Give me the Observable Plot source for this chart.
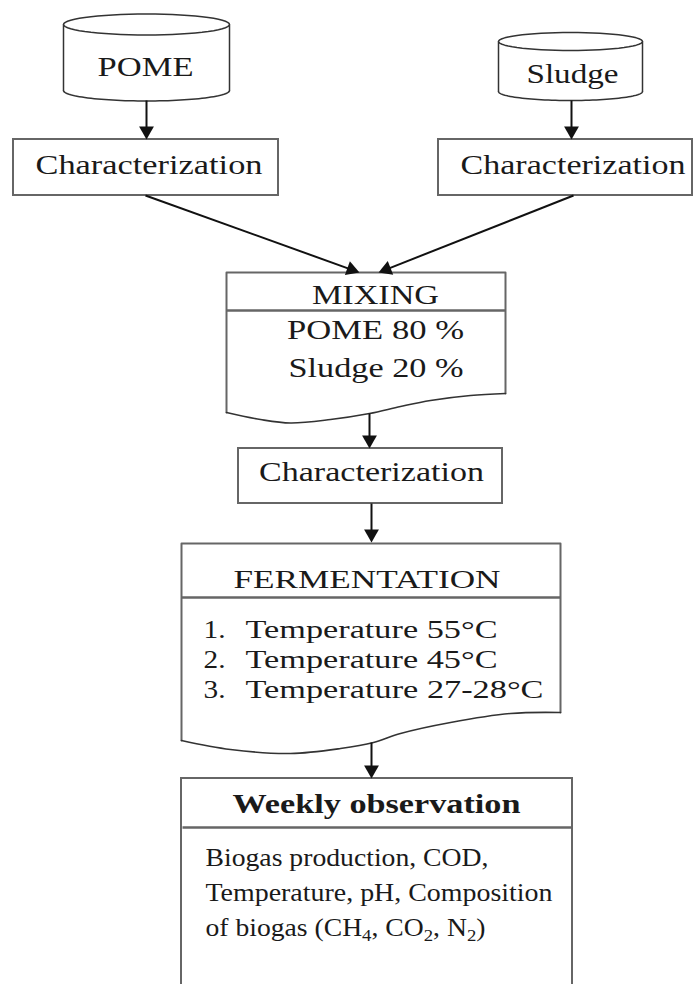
<!DOCTYPE html>
<html><head><meta charset="utf-8">
<script src="https://cdn.jsdelivr.net/npm/d3@7"></script>
<script src="https://cdn.jsdelivr.net/npm/@observablehq/plot@0.6"></script>
<style>html,body{margin:0;padding:0;background:#fff;overflow:hidden}</style>
</head><body><div id="chart"></div>
<script>
// ---------- DATA (texts of the flow chart) ----------
const sources = ["POME", "Sludge"];
const mixShares = [80, 20];
const stepLabel = "Characterization";
const mixingTitle = "MIXING";
const fermentationTitle = "FERMENTATION";
const temperatures = ["55°C", "45°C", "27-28°C"];
const observationTitle = "Weekly observation";
const observationLines = ["Biogas production, COD,", "Temperature, pH, Composition", "of biogas (CH4, CO2, N2)"];

// ---------- LAYOUT (geometry, kept apart from the data) ----------
const W = 694, H = 984;
const FONT = '"Liberation Serif","Times New Roman",serif';
const INK = "#1a1a1a", BOX = "#666", DARK = "#333";

const cylinders = [
  {x1: 63, x2: 229, yTop: 24, yBot: 90, ry: 10.5},
  {x1: 498, x2: 642, yTop: 41, yBot: 91, ry: 9}
];
const rects = [
  {x1: 13, x2: 278, y1: 139, y2: 195},
  {x1: 438, x2: 692, y1: 139, y2: 195},
  {x1: 238, x2: 502, y1: 448, y2: 503},
  {x1: 181, x2: 572, y1: 778, y2: 1000}
];
const dividers = [
  {x1: 226, x2: 505, y: 310},
  {x1: 181, x2: 560, y: 597},
  {x1: 182, x2: 572, y: 827}
];
const docs = [
  {x1: 226, x2: 505, y1: 272, yl: 412, yr: 393,
   wave: [[226,412],[260,419],[290,422.5],[330,419],[369,413],[400,406],[430,400],[470,395],[505,393]]},
  {x1: 181, x2: 560, y1: 543, yl: 740, yr: 712,
   wave: [[181,740],[230,749],[290,753],[340,748],[373,742],[400,733],[450,722],[510,713],[560,712]]}
];
const arrows = [
  {x1: 146, y1: 100, x2: 146, y2: 139},
  {x1: 571, y1: 100, x2: 571, y2: 139},
  {x1: 145, y1: 195, x2: 359, y2: 272},
  {x1: 573, y1: 195, x2: 378, y2: 272},
  {x1: 369, y1: 413, x2: 369, y2: 448},
  {x1: 371, y1: 503, x2: 371, y2: 542},
  {x1: 371, y1: 742, x2: 371, y2: 778}
];

// centred text rows: text from data, placement from layout
const centered = [
  {t: sources[0], x: 145, base: 75, w: 96, fs: 27},
  {t: sources[1], x: 572, base: 82, w: 92, fs: 27},
  {t: stepLabel, x: 148.5, base: 173, w: 227, fs: 27},
  {t: stepLabel, x: 572.5, base: 173, w: 225, fs: 27},
  {t: mixingTitle, x: 375, base: 303, w: 127, fs: 27},
  {t: `${sources[0]} ${mixShares[0]} %`, x: 375, base: 338, w: 177, fs: 27},
  {t: `${sources[1]} ${mixShares[1]} %`, x: 375.5, base: 376, w: 175, fs: 27},
  {t: stepLabel, x: 371, base: 480, w: 225, fs: 27},
  {t: fermentationTitle, x: 366.5, base: 587, w: 267, fs: 26}
];
const tempBase = [637, 667, 697], tempW = [252, 252, 298];
const leftTexts = [];
temperatures.forEach((v, i) => {
  leftTexts.push({t: `${i + 1}.`, x: 203, base: tempBase[i], w: 22, fs: 25});
  leftTexts.push({t: `Temperature ${v}`, x: 245, base: tempBase[i], w: tempW[i], fs: 25});
});
const obsBase = [865, 900, 935], obsW = [283, 347, 280];
observationLines.forEach((v, i) => leftTexts.push({t: v, x: 205, base: obsBase[i], w: obsW[i], fs: 25}));
const boldTexts = [{t: observationTitle, x: 376, base: 812, w: 288, fs: 27}];

// ---------- geometry helpers ----------
const ell = (cx, cy, rx, ry, a0, a1, g, n = 60) =>
  d3.range(n + 1).map(i => { const a = a0 + (a1 - a0) * i / n; return {x: cx + rx * Math.cos(a), y: cy + ry * Math.sin(a), g}; });
const cylTop = [], cylBot = [], cylSides = [];
cylinders.forEach((c, k) => {
  const cx = (c.x1 + c.x2) / 2, rx = (c.x2 - c.x1) / 2;
  cylTop.push(...ell(cx, c.yTop, rx, c.ry, 0, 2 * Math.PI, k));
  cylBot.push(...ell(cx, c.yBot, rx, c.ry, 0, Math.PI, k));
  cylSides.push({x1: c.x1, y1: c.yTop, x2: c.x1, y2: c.yBot}, {x1: c.x2, y1: c.yTop, x2: c.x2, y2: c.yBot});
});
const docFrames = docs.flatMap((d, k) => [[d.x1, d.yl], [d.x1, d.y1], [d.x2, d.y1], [d.x2, d.yr]].map(([x, y]) => ({x, y, g: k})));
const docWaves = docs.flatMap((d, k) => d.wave.map(([x, y]) => ({x, y, g: k})));
const HEAD = 8.6; // tip-to-centre distance of the triangle head
const heads = arrows.map(a => {
  const dx = a.x2 - a.x1, dy = a.y2 - a.y1, L = Math.hypot(dx, dy);
  return {x: a.x2 - HEAD * dx / L, y: a.y2 - HEAD * dy / L, rot: Math.atan2(dx, -dy) * 180 / Math.PI,
          sx: a.x1, sy: a.y1};
});

const textY = d => d.base - 0.32 * d.fs;

const chart = Plot.plot({
  width: W, height: H, margin: 0,
  x: {domain: [0, W], range: [0, W], axis: null},
  y: {domain: [0, H], range: [0, H], axis: null},
  style: {background: "#fff", fontFamily: FONT},
  marks: [
    // cylinders
    Plot.line(cylTop, {x: "x", y: "y", z: "g", stroke: DARK, strokeWidth: 1.5}),
    Plot.line(cylBot, {x: "x", y: "y", z: "g", stroke: DARK, strokeWidth: 1.5}),
    Plot.link(cylSides, {x1: "x1", y1: "y1", x2: "x2", y2: "y2", stroke: DARK, strokeWidth: 1.5}),
    // boxes
    Plot.rect(rects, {x1: "x1", x2: "x2", y1: "y1", y2: "y2", fill: "none", stroke: BOX, strokeWidth: 2}),
    Plot.line(docFrames, {x: "x", y: "y", z: "g", stroke: BOX, strokeWidth: 2}),
    Plot.line(docWaves, {x: "x", y: "y", z: "g", curve: "catmull-rom", stroke: DARK, strokeWidth: 1.6}),
    Plot.link(dividers, {x1: "x1", x2: "x2", y1: "y", y2: "y", stroke: BOX, strokeWidth: 2.4}),
    // arrows
    Plot.link(heads, {x1: "sx", y1: "sy", x2: "x", y2: "y", stroke: "#111", strokeWidth: 2}),
    Plot.dot(heads, {x: "x", y: "y", symbol: "triangle", r: 5.5, rotate: "rot", fill: "#111", stroke: "none"}),
    // texts
    Plot.text(centered, {x: "x", y: textY, text: "t", fontSize: "fs", textAnchor: "middle", fill: INK}),
    Plot.text(leftTexts, {x: "x", y: textY, text: "t", fontSize: "fs", textAnchor: "start", fill: INK}),
    Plot.text(boldTexts, {x: "x", y: textY, text: "t", fontSize: "fs", fontWeight: "bold", textAnchor: "middle", fill: INK})
  ]
});

// stretch texts to the widths measured on the reference; add chemical subscripts
const textGroups = d3.select(chart).selectAll('g[aria-label="text"]').nodes();
function fit(group, rows) {
  if (!group) return;
  d3.select(group).selectAll("text").each(function(_, i) {
    const r = rows[i];
    if (!r) return;
    const el = d3.select(this);
    if (/[A-Z]\d/.test(r.t)) {
      const parts = r.t.split(/(?<=[A-Z])(\d)/);
      el.text(null);
      let shifted = false;
      parts.forEach((p, j) => {
        if (!p) return;
        const ts = el.append("tspan").text(p);
        if (j % 2 === 1) { ts.attr("dy", 5).attr("font-size", 17); shifted = true; }
        else if (shifted) { ts.attr("dy", -5); shifted = false; }
      });
    }
    if (r.w) { this.setAttribute("textLength", r.w); this.setAttribute("lengthAdjust", "spacingAndGlyphs"); }
  });
}
fit(textGroups[0], centered);
fit(textGroups[1], leftTexts);
fit(textGroups[2], boldTexts);

document.getElementById("chart").append(chart);
</script>
</body></html>
